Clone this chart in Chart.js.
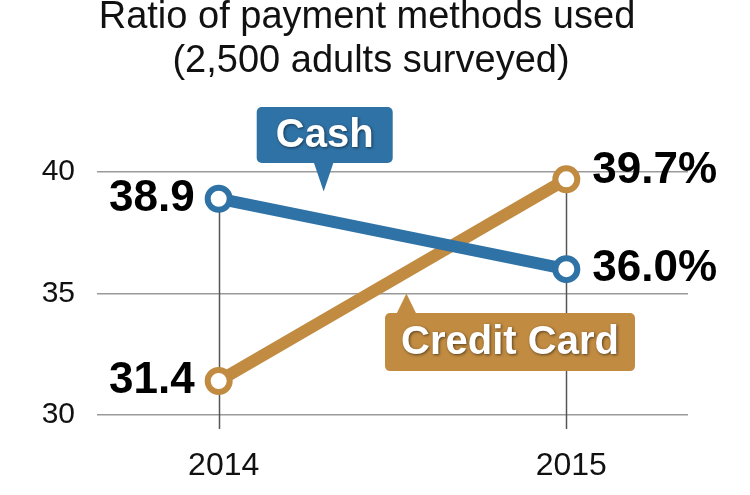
<!DOCTYPE html>
<html>
<head>
<meta charset="utf-8">
<script src="https://cdn.jsdelivr.net/npm/chart.js@4/dist/chart.umd.min.js"></script>
<style>
  html, body { margin: 0; padding: 0; background: #fff; }
  #wrap { width: 750px; height: 495px; }
</style>
</head>
<body>
<div id="wrap"><canvas id="chart" width="750" height="495"></canvas></div>
<script>
const years = [2014, 2015];
const cash = [38.9, 36.0];
const credit = [31.4, 39.7];
const titleLines = ['Ratio of payment methods used', '(2,500 adults surveyed)'];
const yTicks = [30, 35, 40];

const BLUE = '#2f72a6';
const TAN = '#c18b41';
const FONT = '"Liberation Sans", Arial, Helvetica, sans-serif';

// title, vertical drop lines, value labels and the two tag boxes
const decor = {
  id: 'decor',
  beforeDatasetsDraw(chart) {
    const { ctx, scales: { x, y } } = chart;
    ctx.save();
    ctx.strokeStyle = '#555';
    ctx.lineWidth = 1.5;
    years.forEach((yr, i) => {
      const px = Math.round(x.getPixelForValue(yr)) + 0.5;
      const top = y.getPixelForValue(Math.max(cash[i], credit[i]));
      ctx.beginPath();
      ctx.moveTo(px, top);
      ctx.lineTo(px, y.bottom + 14);
      ctx.stroke();
    });
    ctx.restore();
  },
  afterDatasetsDraw(chart) {
    const { ctx, scales: { x, y } } = chart;
    ctx.save();

    // title
    ctx.fillStyle = '#111';
    ctx.font = '38px ' + FONT;
    ctx.textAlign = 'center';
    ctx.textBaseline = 'middle';
    ctx.fillText(titleLines[0], 367, 18);
    ctx.fillText(titleLines[1], 371, 62);

    // value labels
    ctx.font = 'bold 44px ' + FONT;
    ctx.fillStyle = '#000';
    const c0 = chart.getDatasetMeta(0).data, c1 = chart.getDatasetMeta(1).data;
    ctx.textAlign = 'right';
    ctx.fillText(cash[0].toFixed(1), c0[0].x - 24, c0[0].y);
    ctx.fillText(credit[0].toFixed(1), c1[0].x - 24, c1[0].y);
    ctx.textAlign = 'left';
    ctx.fillText(credit[1].toFixed(1) + '%', c1[1].x + 26, c1[1].y - 8);
    ctx.fillText(cash[1].toFixed(1) + '%', c0[1].x + 26, c0[1].y);

    // tags
    const tag = (text, color, cx, cy, w, h, tipX, tipY, down) => {
      ctx.fillStyle = color;
      ctx.beginPath();
      ctx.roundRect(cx - w / 2, cy - h / 2, w, h, 5);
      ctx.fill();
      ctx.beginPath();
      const base = down ? cy + h / 2 - 1 : cy - h / 2 + 1;
      ctx.moveTo(tipX - 10, base);
      ctx.lineTo(tipX + 10, base);
      ctx.lineTo(tipX, tipY);
      ctx.closePath();
      ctx.fill();
      ctx.save();
      ctx.shadowColor = 'rgba(0,0,0,0.55)';
      ctx.shadowBlur = 3;
      ctx.shadowOffsetX = 1;
      ctx.shadowOffsetY = 1;
      ctx.fillStyle = '#fff';
      ctx.font = 'bold 40px ' + FONT;
      ctx.textAlign = 'center';
      ctx.textBaseline = 'middle';
      ctx.fillText(text, cx, cy + 1);
      ctx.restore();
    };
    tag('Cash', BLUE, x.getPixelForValue(2014.305), y.getPixelForValue(41.52), 136, 56,
        x.getPixelForValue(2014.302), y.getPixelForValue(39.2), true);
    tag('Credit Card', TAN, x.getPixelForValue(2014.838), y.getPixelForValue(33.0), 250, 58,
        x.getPixelForValue(2014.54), y.getPixelForValue(35.0), false);

    ctx.restore();
  }
};

const pts = arr => years.map((yr, i) => ({ x: yr, y: arr[i] }));

new Chart(document.getElementById('chart'), {
  type: 'line',
  data: {
    datasets: [
      { label: 'Cash', data: pts(cash), borderColor: BLUE, borderWidth: 12,
        pointRadius: 11, pointBorderWidth: 6, pointBackgroundColor: '#fff', pointBorderColor: BLUE },
      { label: 'Credit Card', data: pts(credit), borderColor: TAN, borderWidth: 12,
        pointRadius: 11, pointBorderWidth: 6, pointBackgroundColor: '#fff', pointBorderColor: TAN }
    ]
  },
  options: {
    responsive: false,
    animation: false,
    clip: false,
    layout: { padding: { top: 172, right: 62, bottom: 0, left: 0 } },
    plugins: { legend: { display: false }, title: { display: false }, tooltip: { enabled: false } },
    scales: {
      x: {
        type: 'linear', min: 2013.65, max: 2015.35,
        afterFit: s => { s.height = 80; },
        grid: { display: false },
        border: { display: false },
        ticks: { stepSize: 1, includeBounds: false, padding: 24, labelOffset: 5, color: '#111',
                 font: { size: 32, family: FONT }, callback: v => String(v) }
      },
      y: {
        min: 30, max: 40,
        afterFit: s => { s.width = 97; },
        afterBuildTicks: s => { s.ticks = yTicks.map(v => ({ value: v })); },
        grid: { color: '#9a9a9a', lineWidth: 1.5, drawTicks: false },
        border: { display: false },
        ticks: { padding: 22, color: '#111', font: { size: 30, family: FONT } }
      }
    }
  },
  plugins: [decor]
});
</script>
</body>
</html>
